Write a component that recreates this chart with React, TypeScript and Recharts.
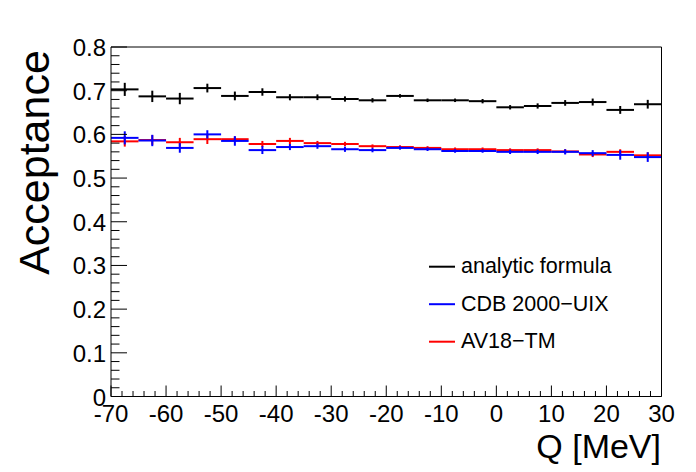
import React from 'react';
import {
  ComposedChart,
  Scatter,
  ErrorBar,
  XAxis,
  YAxis,
  Legend,
} from 'recharts';

// bin centres of the Q histogram (5 MeV bins from -70 to 30)
const qBins = [
  -67.5, -62.5, -57.5, -52.5, -47.5, -42.5, -37.5, -32.5, -27.5, -22.5,
  -17.5, -12.5, -7.5, -2.5, 2.5, 7.5, 12.5, 17.5, 22.5, 27.5,
];
const binHalfWidth = 2.5;

const analyticValues = [
  0.703, 0.687, 0.682, 0.706, 0.688, 0.697, 0.685, 0.685, 0.681, 0.678,
  0.688, 0.678, 0.678, 0.676, 0.662, 0.665, 0.672, 0.674, 0.656, 0.669,
];
const analyticErrors = [
  0.015, 0.013, 0.013, 0.01, 0.01, 0.0085, 0.007, 0.0065, 0.006, 0.005,
  0.004, 0.004, 0.004, 0.005, 0.005, 0.006, 0.0065, 0.008, 0.009, 0.01,
];

const cdbValues = [
  0.592, 0.586, 0.569, 0.6, 0.585, 0.564, 0.571, 0.573, 0.566, 0.564,
  0.569, 0.566, 0.562, 0.562, 0.56, 0.56, 0.56, 0.557, 0.553, 0.548,
];
const cdbErrors = [
  0.015, 0.013, 0.011, 0.0095, 0.011, 0.009, 0.007, 0.006, 0.006, 0.005,
  0.004, 0.004, 0.004, 0.004, 0.005, 0.005, 0.006, 0.007, 0.011, 0.011,
];

const av18Values = [
  0.584, 0.587, 0.582, 0.589, 0.589, 0.578, 0.585, 0.58, 0.578, 0.573,
  0.571, 0.569, 0.566, 0.566, 0.564, 0.564, 0.561, 0.554, 0.56, 0.552,
];
const av18Errors = [
  0.012, 0.011, 0.01, 0.011, 0.006, 0.007, 0.007, 0.005, 0.005, 0.004,
  0.004, 0.004, 0.004, 0.004, 0.004, 0.004, 0.005, 0.006, 0.006, 0.007,
];

const xMajorTicks = [-70, -60, -50, -40, -30, -20, -10, 0, 10, 20, 30];
const yMajorTicks = [0, 0.1, 0.2, 0.3, 0.4, 0.5, 0.6, 0.7, 0.8];

const legendItems = [
  { label: 'analytic formula', color: '#000000' },
  { label: 'CDB 2000\u2212UIX', color: '#0000ff' },
  { label: 'AV18\u2212TM', color: '#ff0000' },
];

const FONT = '"Liberation Sans", Arial, Helvetica, sans-serif';

const toRows = (values: number[], errors: number[]) =>
  qBins.map((q, i) => ({ q, v: values[i], ex: binHalfWidth, ey: errors[i] }));

const analyticData = toRows(analyticValues, analyticErrors);
const cdbData = toRows(cdbValues, cdbErrors);
const av18Data = toRows(av18Values, av18Errors);

// minor ticks every 2 MeV / every 0.02
const xTicks: number[] = [];
for (let i = 0; i <= 50; i++) xTicks.push(-70 + i * 2);
const yTicks: number[] = [];
for (let i = 0; i <= 40; i++) yTicks.push(i / 50);

const XTick = (props: any) => {
  const { x, y, payload } = props;
  const v = payload.value;
  const major = xMajorTicks.some((t) => Math.abs(t - v) < 1e-6);
  return (
    <g>
      <line x1={x} x2={x} y1={y} y2={y - (major ? 11 : 5.5)} stroke="#000" strokeWidth={1} />
      {major && (
        <text x={x} y={y + 25} textAnchor="middle" fontSize={24} fontFamily={FONT} fill="#000">
          {String(v)}
        </text>
      )}
    </g>
  );
};

const YTick = (props: any) => {
  const { x, y, payload } = props;
  const v = payload.value;
  const major = yMajorTicks.some((t) => Math.abs(t - v) < 1e-6);
  return (
    <g>
      <line x1={x} x2={x + (major ? 16 : 8.5)} y1={y} y2={y} stroke="#000" strokeWidth={1} />
      {major && (
        <text x={x - 5} y={y + 9} textAnchor="end" fontSize={24} fontFamily={FONT} fill="#000">
          {v === 0 ? '0' : v.toFixed(1)}
        </text>
      )}
    </g>
  );
};

const noMarker = () => <g />;

const LegendBox = () => (
  <svg width={220} height={115}>
    {legendItems.map((item, i) => {
      const cy = 21.7 + i * 37.5;
      return (
        <g key={item.label}>
          <line x1={9} x2={35} y1={cy} y2={cy} stroke={item.color} strokeWidth={2} />
          <text x={41} y={cy + 6.5} fontSize={21.5} fontFamily={FONT} fill="#000">
            {item.label}
          </text>
        </g>
      );
    })}
  </svg>
);

const series = [
  { name: 'analytic formula', data: analyticData, color: '#000000' },
  { name: 'AV18-TM', data: av18Data, color: '#ff0000' },
  { name: 'CDB 2000-UIX', data: cdbData, color: '#0000ff' },
];

export default function App() {
  return (
    <div style={{ position: 'fixed', left: 0, top: 0, width: 696, height: 472, background: '#fff' }}>
      <ComposedChart
        width={696}
        height={472}
        margin={{ top: 46, right: 33.5, bottom: 74.5, left: 110 }}
      >
        <XAxis
          dataKey="q"
          type="number"
          domain={[-70, 30]}
          ticks={xTicks}
          interval={0}
          tick={<XTick />}
          tickLine={false}
          tickSize={0}
          tickMargin={0}
          height={1}
          axisLine={{ stroke: '#000', strokeWidth: 1 }}
          allowDataOverflow
        />
        <XAxis
          xAxisId="top"
          orientation="top"
          type="number"
          domain={[-70, 30]}
          tick={false}
          tickLine={false}
          height={1}
          axisLine={{ stroke: '#000', strokeWidth: 1 }}
        />
        <YAxis
          dataKey="v"
          type="number"
          domain={[0, 0.8]}
          ticks={yTicks}
          interval={0}
          tick={<YTick />}
          tickLine={false}
          tickSize={0}
          tickMargin={0}
          width={1}
          axisLine={{ stroke: '#000', strokeWidth: 1 }}
          allowDataOverflow
        />
        <YAxis
          yAxisId="right"
          orientation="right"
          type="number"
          domain={[0, 0.8]}
          tick={false}
          tickLine={false}
          width={1}
          axisLine={{ stroke: '#000', strokeWidth: 1 }}
        />
        {series.map((s) => (
          <Scatter
            key={s.name}
            name={s.name}
            data={s.data}
            fill={s.color}
            shape={noMarker}
            isAnimationActive={false}
          >
            <ErrorBar dataKey="ex" direction="x" width={0} stroke={s.color} strokeWidth={2} isAnimationActive={false} />
            <ErrorBar dataKey="ey" direction="y" width={0} stroke={s.color} strokeWidth={2} isAnimationActive={false} />
          </Scatter>
        ))}
        <Legend
          layout="vertical"
          align="center"
          verticalAlign="middle"
          content={<LegendBox />}
          wrapperStyle={{ left: 420, top: 245, width: 220, height: 115 }}
        />
        <text
          x={661}
          y={458}
          textAnchor="end"
          fontSize={34}
          fontFamily={FONT}
          fill="#000"
        >
          Q [MeV]
        </text>
        <text
          x={49}
          y={162.5}
          transform="rotate(-90 49 162.5)"
          textAnchor="middle"
          fontSize={43}
          fontFamily={FONT}
          fill="#000"
        >
          Acceptance
        </text>
      </ComposedChart>
    </div>
  );
}
